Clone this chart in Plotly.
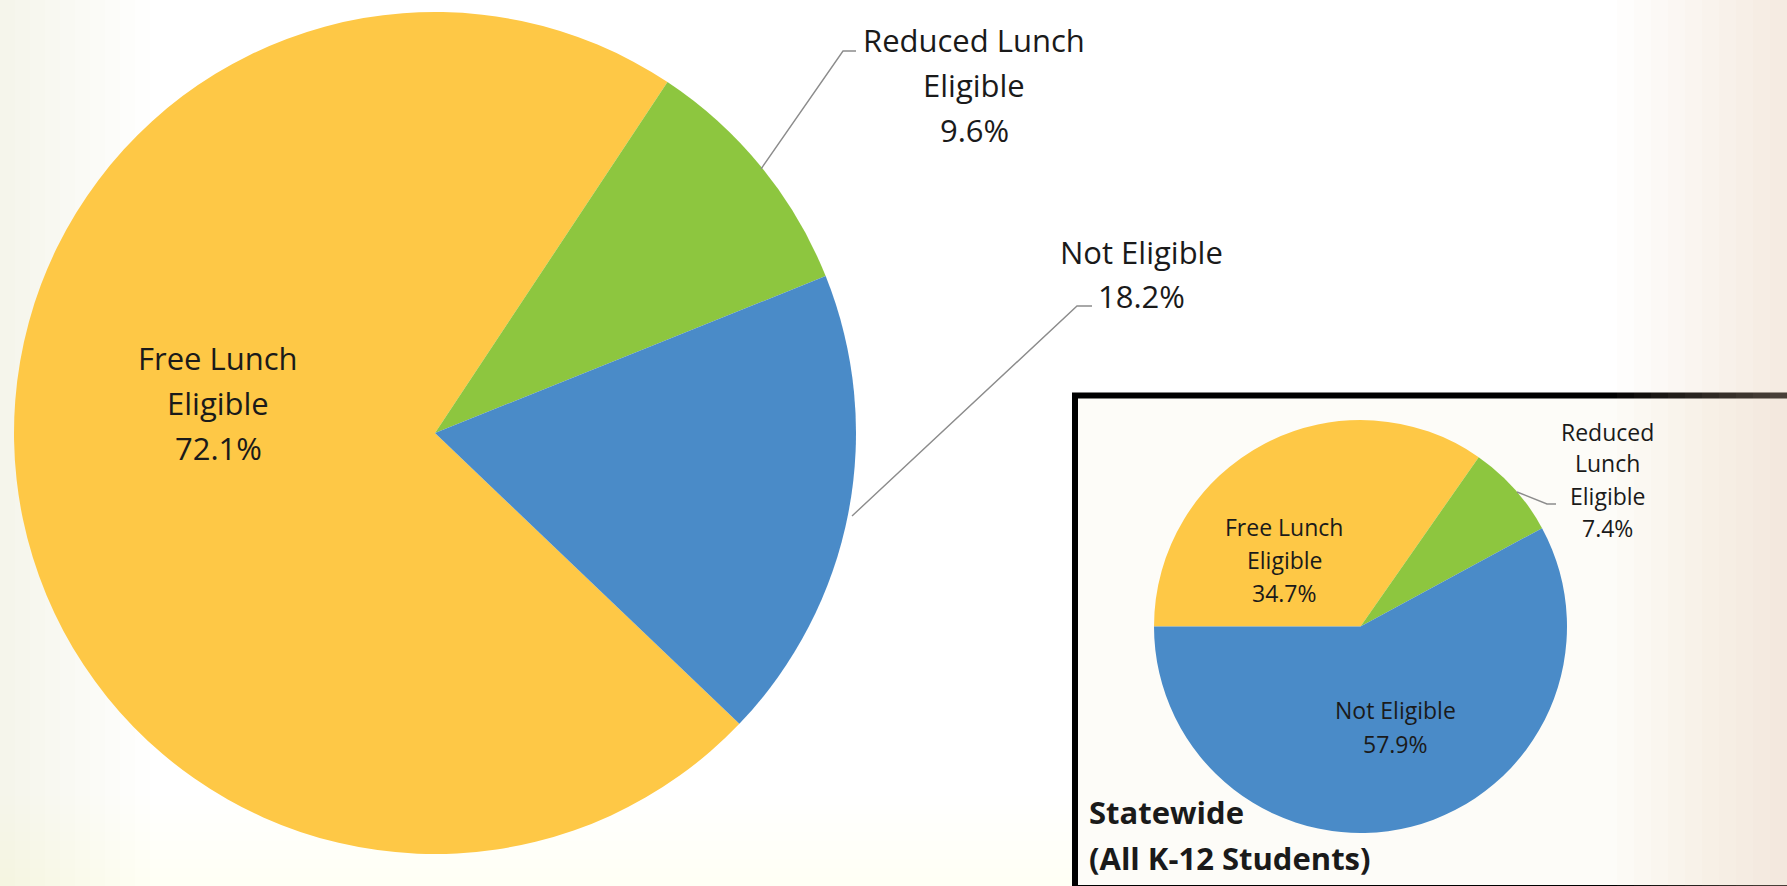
import plotly.graph_objects as go

# ---------------- data ----------------
categories = ["Free Lunch Eligible", "Reduced Lunch Eligible", "Not Eligible"]
district_values = [72.1, 9.6, 18.2]
statewide_values = [34.7, 7.4, 57.9]
slice_colors = ["#FEC846", "#8DC63F", "#4A8BC8"]

district_label_lines = [["Free Lunch", "Eligible"], ["Reduced Lunch", "Eligible"], ["Not Eligible"]]
statewide_label_lines = [["Free Lunch", "Eligible"], ["Reduced", "Lunch", "Eligible"], ["Not Eligible"]]
inset_title_lines = ["Statewide", "(All K-12 Students)"]

# ---------------- helpers ----------------
W, H = 1787, 886


def fx(px):
    return px / W


def fy(py):
    return 1 - py / H


FONT = "Open Sans"
TEXT_COLOR = "#1a1a1a"
LEADER = "#8C8C8C"
MAIN_SIZE = 31
INSET_SIZE = 23

fig = go.Figure()

fig.add_trace(go.Pie(
    labels=categories, values=district_values, sort=False,
    direction="clockwise", rotation=133.7,
    marker=dict(colors=slice_colors, line=dict(width=0)),
    textinfo="none", hoverinfo="label+percent", showlegend=False,
    domain=dict(x=[fx(14), fx(856)], y=[fy(855), fy(11)]),
))

fig.add_trace(go.Pie(
    labels=categories, values=statewide_values, sort=False,
    direction="clockwise", rotation=270,
    marker=dict(colors=slice_colors, line=dict(width=0)),
    textinfo="none", hoverinfo="label+percent", showlegend=False,
    domain=dict(x=[fx(1154), fx(1567)], y=[fy(834), fy(419)]),
))

annotations = []


def add_lines(lines, cx, ys, size, bold=False, anchor="center"):
    for txt, y in zip(lines, ys):
        t = f"<b>{txt}</b>" if bold else txt
        annotations.append(dict(
            text=t, x=fx(cx), y=fy(y), xref="paper", yref="paper",
            xanchor=anchor, yanchor="middle", showarrow=False,
            font=dict(family=FONT, size=size, color=TEXT_COLOR),
        ))


def pct(v):
    return f"{v:.1f}%"


# district labels
add_lines(district_label_lines[0] + [pct(district_values[0])], 218, [358, 403, 448], MAIN_SIZE)
add_lines(district_label_lines[1] + [pct(district_values[1])], 974, [40, 85, 130], MAIN_SIZE)
add_lines(district_label_lines[2] + [pct(district_values[2])], 1141, [252, 296], MAIN_SIZE)

# statewide labels
add_lines(statewide_label_lines[0] + [pct(statewide_values[0])], 1284, [527, 560, 593], INSET_SIZE)
add_lines(statewide_label_lines[1] + [pct(statewide_values[1])], 1607, [432, 463, 496, 528], INSET_SIZE)
add_lines(statewide_label_lines[2] + [pct(statewide_values[2])], 1395, [710, 744], INSET_SIZE)

# inset title
add_lines(inset_title_lines, 1087, [812, 858], 31, bold=True, anchor="left")

shapes = []

# subtle background texture: left / right / bottom beige gradients
N = 10
for k in range(1, N + 1):
    shapes.append(dict(type="rect", xref="paper", yref="paper",
                       x0=0, x1=fx(150 * k / N), y0=0, y1=1,
                       line=dict(width=0), fillcolor="rgba(225,218,195,0.03)", layer="below"))
    shapes.append(dict(type="rect", xref="paper", yref="paper",
                       x0=0, x1=1, y0=0, y1=fy(H - 90 * k / N),
                       line=dict(width=0), fillcolor="rgba(230,225,205,0.012)", layer="below"))

# inset box
shapes.append(dict(type="rect", xref="paper", yref="paper",
                   x0=fx(1075), x1=fx(1800), y0=fy(888), y1=fy(395.5),
                   line=dict(color="black", width=6), fillcolor="#FDFCF8", layer="below"))

for k in range(1, N + 1):
    shapes.append(dict(type="rect", xref="paper", yref="paper",
                       x0=fx(W - 170 * k / N), x1=fx(W + 10), y0=fy(H + 10), y1=fy(-10),
                       line=dict(width=0), fillcolor="rgba(222,214,185,0.04)", layer="below"))


def leader(points):
    path = "M " + " L ".join(f"{fx(x)},{fy(y)}" for x, y in points)
    shapes.append(dict(type="path", xref="paper", yref="paper", path=path,
                       line=dict(color=LEADER, width=1.4)))


leader([(761, 169), (843, 51), (856, 51)])
leader([(852, 516), (1077, 306), (1092, 306)])
leader([(1517, 492), (1547, 504), (1556, 504)])

fig.update_layout(
    width=W, height=H,
    margin=dict(l=0, r=0, t=0, b=0),
    paper_bgcolor="#FFFFFF", plot_bgcolor="#FFFFFF",
    annotations=annotations, shapes=shapes, showlegend=False,
)

fig.write_html("out.html",
               config={"displayModeBar": False},
               post_script="document.body.style.margin='0';document.body.style.overflow='hidden';")
